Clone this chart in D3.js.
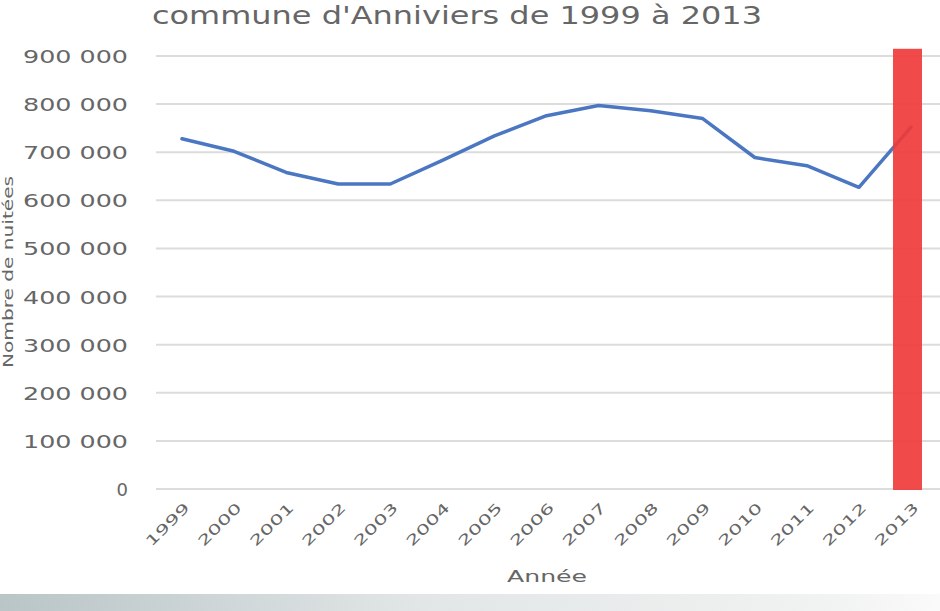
<!DOCTYPE html>
<html>
<head>
<meta charset="utf-8">
<script src="https://cdn.jsdelivr.net/npm/d3@7/dist/d3.min.js"></script>
<style>
  html, body { margin: 0; padding: 0; background: #fff; }
  svg { display: block; }
  text { font-family: "DejaVu Sans", sans-serif; fill: #666; }
</style>
</head>
<body>
<svg id="chart" width="940" height="611"></svg>
<script>
// ---- Data ----
const years = ["1999","2000","2001","2002","2003","2004","2005","2006","2007","2008","2009","2010","2011","2012","2013"];
const nuitees = [728000, 702000, 658000, 634000, 634000, 683000, 734000, 776000, 797000, 786000, 770000, 689000, 672000, 627000, 752000];
const highlightYear = ["2013"];
const highlightValue = [915000];
const yTicks = [0, 100000, 200000, 300000, 400000, 500000, 600000, 700000, 800000, 900000];
const titleText = "commune d'Anniviers de 1999 à 2013";
const xTitle = "Année";
const yTitle = "Nombre de nuitées";

// ---- Layout ----
const W = 940, H = 611;
const svg = d3.select("#chart");

const defs = svg.append("defs");
const grad = defs.append("linearGradient").attr("id", "band").attr("x1", "0").attr("x2", "1").attr("y1", "0").attr("y2", "0");
grad.append("stop").attr("offset", "0%").attr("stop-color", "#b9c5c7");
grad.append("stop").attr("offset", "45%").attr("stop-color", "#e2e6e6");
grad.append("stop").attr("offset", "88%").attr("stop-color", "#f1f2f2");
grad.append("stop").attr("offset", "100%").attr("stop-color", "#fafafa");

svg.append("rect").attr("x", 0).attr("y", 594).attr("width", W).attr("height", H - 594).attr("fill", "url(#band)");

const x = d3.scalePoint().domain(years).range([182, 911]);
const y = d3.scaleLinear().domain([0, 900000]).range([489, 56]);

// gridlines
svg.append("g").selectAll("line").data(yTicks).join("line")
  .attr("x1", 156).attr("x2", W)
  .attr("y1", d => y(d)).attr("y2", d => y(d))
  .attr("stroke", "#dcdcdc").attr("stroke-width", 2);

// y axis labels
const yAxis = d3.axisLeft(y).tickValues(yTicks).tickSize(0).tickPadding(0)
  .tickFormat(d => d3.format(",")(d).replace(/,/g, " "));
const gy = svg.append("g").attr("transform", "translate(128,0)").call(yAxis);
gy.select(".domain").remove();
gy.selectAll("text")
  .attr("font-size", 18).attr("fill", "#707070").attr("font-family", "DejaVu Sans")
  .attr("dy", "0.36em")
  .each(function(d) { if (d > 0) d3.select(this).attr("textLength", 105).attr("lengthAdjust", "spacingAndGlyphs"); });

// x axis labels
const xAxis = d3.axisBottom(x).tickSize(0).tickPadding(0);
const gx = svg.append("g").call(xAxis);
gx.select(".domain").remove();
gx.selectAll(".tick").attr("transform", d => `translate(${x(d) + 5},505)`);
gx.selectAll("text")
  .attr("font-size", 14).attr("fill", "#707070").attr("font-family", "DejaVu Sans")
  .attr("text-anchor", "end").attr("dy", "0.35em").attr("y", 0)
  .attr("transform", "rotate(-45)")
  .attr("textLength", 55).attr("lengthAdjust", "spacingAndGlyphs");

// line
const line = d3.line().x((d, i) => x(years[i])).y(d => y(d));
svg.append("path").datum(nuitees)
  .attr("d", line)
  .attr("fill", "none").attr("stroke", "#4b77c2").attr("stroke-width", 3.5)
  .attr("stroke-linejoin", "round").attr("stroke-linecap", "round");

// highlight bar
svg.append("g").selectAll("rect").data(highlightValue).join("rect")
  .attr("x", (d, i) => x(highlightYear[i]) - 18)
  .attr("width", 29)
  .attr("y", d => y(d))
  .attr("height", d => y(0) - y(d) + 1)
  .attr("fill", "#ef3b3b").attr("fill-opacity", 0.92);

// title
svg.append("text").attr("x", 457).attr("y", 24).attr("text-anchor", "middle")
  .attr("font-size", 24).attr("fill", "#707070")
  .attr("textLength", 610).attr("lengthAdjust", "spacingAndGlyphs")
  .text(titleText);

// x title
svg.append("text").attr("x", 547).attr("y", 582).attr("text-anchor", "middle")
  .attr("font-size", 16).attr("fill", "#707070")
  .attr("textLength", 80).attr("lengthAdjust", "spacingAndGlyphs")
  .text(xTitle);

// y title
svg.append("text").attr("transform", "translate(13,272) rotate(-90)")
  .attr("text-anchor", "middle").attr("font-size", 14).attr("fill", "#707070")
  .attr("textLength", 192).attr("lengthAdjust", "spacingAndGlyphs")
  .text(yTitle);
</script>
</body>
</html>
